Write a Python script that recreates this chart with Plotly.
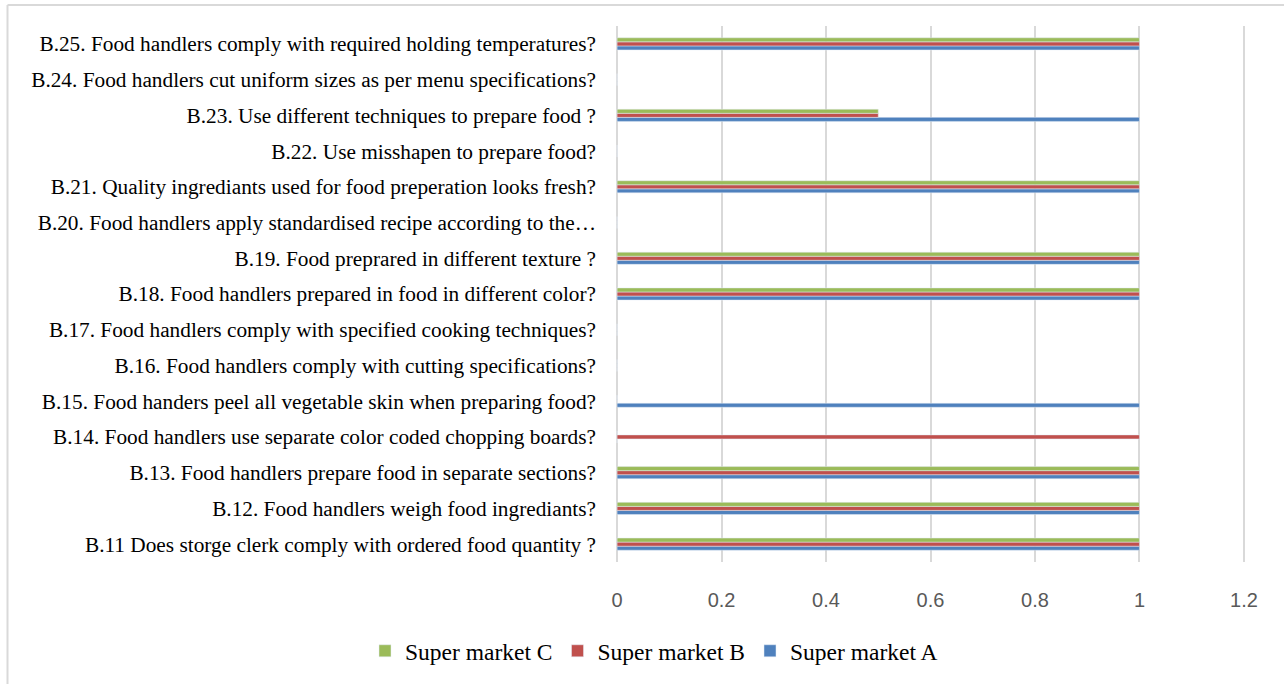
import plotly.graph_objects as go

categories = [
    "B.11 Does storge clerk comply with ordered food quantity ?",
    "B.12. Food handlers weigh food ingrediants?",
    "B.13. Food handlers prepare food in separate sections?",
    "B.14. Food handlers use separate color coded chopping boards?",
    "B.15. Food handers peel all vegetable skin when preparing food?",
    "B.16. Food handlers comply with cutting specifications?",
    "B.17. Food handlers comply with specified cooking techniques?",
    "B.18. Food handlers prepared in food in different color?",
    "B.19. Food preprared in different texture ?",
    "B.20. Food handlers apply standardised recipe according to the…",
    "B.21. Quality ingrediants used for food preperation looks fresh?",
    "B.22. Use misshapen to prepare food?",
    "B.23. Use different techniques to prepare food ?",
    "B.24. Food handlers cut uniform sizes as per menu specifications?",
    "B.25. Food handlers comply with required holding temperatures?",
]
super_market_a = [1, 1, 1, 0, 1, 0, 0, 1, 1, 0, 1, 0, 1, 0, 1]
super_market_b = [1, 1, 1, 1, 0, 0, 0, 1, 1, 0, 1, 0, 0.5, 0, 1]
super_market_c = [1, 1, 1, 0, 0, 0, 0, 1, 1, 0, 1, 0, 0.5, 0, 1]
x_ticks = [0, 0.2, 0.4, 0.6, 0.8, 1, 1.2]

W, H = 1284, 684
L, R, T, B = 615, 38, 26, 122
PW, PH = W - L - R, H - T - B

fig = go.Figure()
fig.add_trace(go.Bar(y=categories, x=super_market_a, orientation="h",
                     name="Super market A", marker_color="#4F81BD"))
fig.add_trace(go.Bar(y=categories, x=super_market_b, orientation="h",
                     name="Super market B", marker_color="#C0504D"))
fig.add_trace(go.Bar(y=categories, x=super_market_c, orientation="h",
                     name="Super market C", marker_color="#9BBB59"))

fig.update_layout(
    width=W, height=H,
    barmode="group", bargap=0.66, bargroupgap=0,
    plot_bgcolor="white", paper_bgcolor="white",
    margin=dict(l=L, r=R, t=T, b=B, autoexpand=False),
    font=dict(family="Liberation Serif", size=21, color="#000000"),
    xaxis=dict(range=[-0.004, 1.204], tickvals=x_ticks, ticktext=[str(v) for v in x_ticks],
               showgrid=True, gridcolor="#D9D9D9", gridwidth=2,
               zeroline=True, zerolinecolor="#D9D9D9", zerolinewidth=2,
               showline=False, ticks="", ticklabelstandoff=24,
               tickfont=dict(family="Liberation Sans", size=20, color="#595959")),
    yaxis=dict(showgrid=False, zeroline=False, showline=False, ticks="",
               ticklabelstandoff=18, automargin=False,
               tickfont=dict(family="Liberation Serif", size=21.3, color="#000000")),
    legend=dict(orientation="h", x=(654 - L) / PW, xanchor="center",
                y=1 - 651 / H, yanchor="middle", yref="container",
                traceorder="reversed", itemwidth=30,
                font=dict(family="Liberation Serif", size=23.5, color="#000000")),
    showlegend=True,
)
# chart border (left and top edges visible in reference)
fig.add_shape(type="line", xref="paper", yref="paper",
              x0=(7.5 - L) / PW, x1=(7.5 - L) / PW, y0=-(H - T) / PH + 1, y1=1 + (T - 5) / PH,
              line=dict(color="#D9D9D9", width=2))
fig.add_shape(type="line", xref="paper", yref="paper",
              x0=(7.5 - L) / PW, x1=(W - L) / PW, y0=1 + (T - 5) / PH, y1=1 + (T - 5) / PH,
              line=dict(color="#D9D9D9", width=2))
fig.write_html("out.html", config={"displayModeBar": False},
               post_script="document.body.style.margin='0';")
